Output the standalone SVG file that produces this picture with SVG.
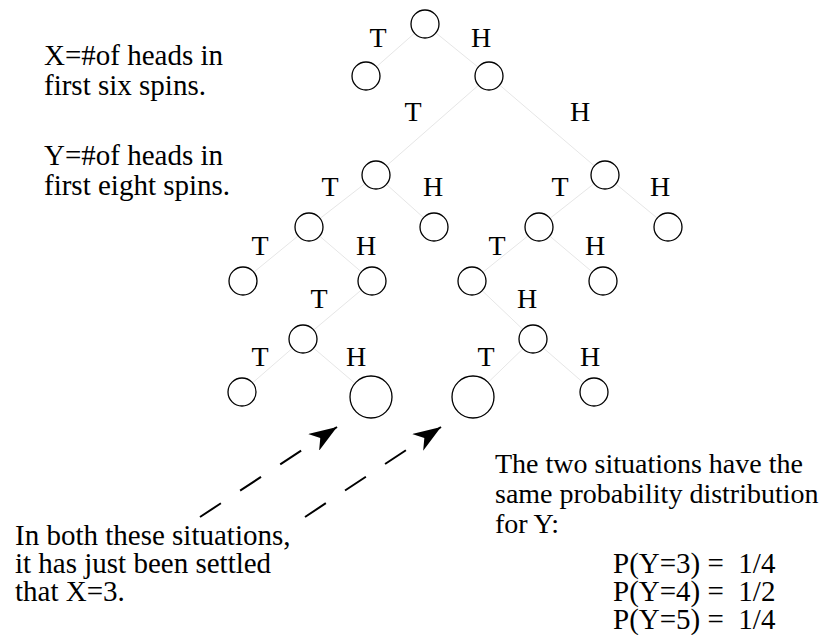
<svg xmlns="http://www.w3.org/2000/svg" width="831" height="635" viewBox="0 0 831 635">
<style>
text{font-family:"Liberation Serif","Times New Roman",serif;font-size:29px;fill:#000}
.lbl{text-anchor:middle;font-size:28px}
.rp{font-size:28px}
.pre{white-space:pre}
circle{fill:#fff;stroke:#000;stroke-width:1.3}
.edge{stroke:#e6e6e6;stroke-width:1;fill:none}
.dash{stroke:#000;stroke-width:2;fill:none;stroke-dasharray:25 23}
</style>
<defs>
<marker id="ah" viewBox="0 0 30 20" refX="28" refY="10" markerWidth="30" markerHeight="20" markerUnits="userSpaceOnUse" orient="auto">
<path d="M0,0 L28,10 L0,20 L8,10 Z" fill="#000"/>
</marker>
</defs>
<g id="connectors">
<line class="edge" x1="425" y1="24" x2="366" y2="76"/>
<line class="edge" x1="425" y1="24" x2="489" y2="76"/>
<line class="edge" x1="489" y1="76" x2="376" y2="175"/>
<line class="edge" x1="489" y1="76" x2="605" y2="175"/>
<line class="edge" x1="376" y1="175" x2="309" y2="227"/>
<line class="edge" x1="376" y1="175" x2="434" y2="227"/>
<line class="edge" x1="605" y1="175" x2="539" y2="227"/>
<line class="edge" x1="605" y1="175" x2="668" y2="227"/>
<line class="edge" x1="309" y1="227" x2="243" y2="281"/>
<line class="edge" x1="309" y1="227" x2="372" y2="281"/>
<line class="edge" x1="539" y1="227" x2="472" y2="281"/>
<line class="edge" x1="539" y1="227" x2="603" y2="281"/>
<line class="edge" x1="372" y1="281" x2="303" y2="339"/>
<line class="edge" x1="472" y1="281" x2="533" y2="339"/>
<line class="edge" x1="303" y1="339" x2="242" y2="392"/>
<line class="edge" x1="303" y1="339" x2="371" y2="397"/>
<line class="edge" x1="533" y1="339" x2="473" y2="397"/>
<line class="edge" x1="533" y1="339" x2="594" y2="392"/>
<line class="dash" x1="200" y1="517" x2="337" y2="427" marker-end="url(#ah)"/>
<line class="dash" x1="305" y1="517" x2="441" y2="427" marker-end="url(#ah)"/>
</g>
<g id="n-root"><circle cx="425" cy="24" r="14"/></g>
<g id="n-t"><circle cx="366" cy="76" r="14"/></g>
<g id="n-h"><circle cx="489" cy="76" r="14"/></g>
<g id="n-ht"><circle cx="376" cy="175" r="14"/></g>
<g id="n-hh"><circle cx="605" cy="175" r="14"/></g>
<g id="n-htt"><circle cx="309" cy="227" r="14"/></g>
<g id="n-hth"><circle cx="434" cy="227" r="14"/></g>
<g id="n-hht"><circle cx="539" cy="227" r="14"/></g>
<g id="n-hhh"><circle cx="668" cy="227" r="14"/></g>
<g id="n-httt"><circle cx="243" cy="281" r="14"/></g>
<g id="n-htth"><circle cx="372" cy="281" r="14"/></g>
<g id="n-hhtt"><circle cx="472" cy="281" r="14"/></g>
<g id="n-hhth"><circle cx="603" cy="281" r="14"/></g>
<g id="n-htthT"><circle cx="303" cy="339" r="14"/></g>
<g id="n-hhttH"><circle cx="533" cy="339" r="14"/></g>
<g id="n-l1"><circle cx="242" cy="392" r="14"/></g>
<g id="n-big1"><circle cx="371" cy="397" r="21"/></g>
<g id="n-big2"><circle cx="473" cy="397" r="21"/></g>
<g id="n-r1"><circle cx="594" cy="392" r="14"/></g>
<g id="labels">
<text class="lbl" x="378" y="47">T</text>
<text class="lbl" x="481" y="47">H</text>
<text class="lbl" x="413" y="121">T</text>
<text class="lbl" x="580" y="121">H</text>
<text class="lbl" x="330" y="196">T</text>
<text class="lbl" x="433" y="196">H</text>
<text class="lbl" x="560" y="196">T</text>
<text class="lbl" x="660" y="196">H</text>
<text class="lbl" x="260" y="255">T</text>
<text class="lbl" x="366" y="255">H</text>
<text class="lbl" x="497" y="255">T</text>
<text class="lbl" x="595" y="255">H</text>
<text class="lbl" x="319" y="308">T</text>
<text class="lbl" x="527" y="308">H</text>
<text class="lbl" x="260" y="366">T</text>
<text class="lbl" x="356" y="366">H</text>
<text class="lbl" x="486" y="366">T</text>
<text class="lbl" x="590" y="366">H</text>
</g>
<g id="text-xy">
<text x="44" y="65">X=#of heads in</text>
<text x="44" y="95">first six spins.</text>
<text x="44" y="165">Y=#of heads in</text>
<text x="44" y="195">first eight spins.</text>
</g>
<g id="text-left">
<text x="15" y="545">In both these situations,</text>
<text x="15" y="573">it has just been settled</text>
<text x="15" y="601">that X=3.</text>
</g>
<g id="text-right">
<text class="rp" x="495" y="473">The two situations have the</text>
<text class="rp" x="495" y="503">same probability distribution</text>
<text class="rp" x="495" y="533">for Y:</text>
<text class="pre" xml:space="preserve" x="613" y="573">P(Y=3) =  1/4</text>
<text class="pre" xml:space="preserve" x="613" y="601">P(Y=4) =  1/2</text>
<text class="pre" xml:space="preserve" x="613" y="629">P(Y=5) =  1/4</text>
</g>
</svg>
